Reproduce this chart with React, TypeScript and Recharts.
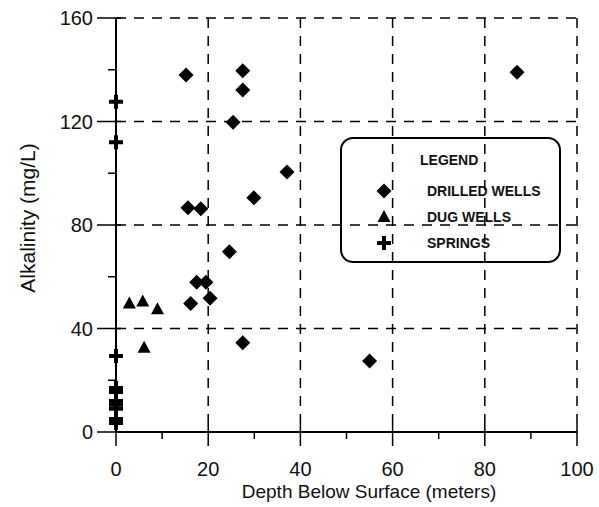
import React from 'react';
import { ScatterChart, Scatter, XAxis, YAxis, CartesianGrid } from 'recharts';

// depth below surface (m) and alkalinity (mg/L)
const drilledDepth = [15.2, 27.5, 27.5, 25.4, 37.1, 29.9, 15.6, 18.4, 24.6, 17.5, 19.5, 16.2, 20.4, 27.5, 55, 87];
const drilledAlk = [138, 139.6, 132.2, 119.7, 100.5, 90.5, 86.7, 86.3, 69.7, 57.9, 57.9, 49.7, 51.7, 34.5, 27.4, 139];

const dugDepth = [2.9, 5.8, 9, 6.1];
const dugAlk = [49.7, 50.4, 47.4, 32.6];

const springDepth = [0, 0, 0, 0, 0, 0, 0, 0, 0, 0];
const springAlk = [127.6, 112, 29.4, 17, 15.5, 12, 10.5, 9, 5, 3.5];

const xTicks = [0, 10, 20, 30, 40, 50, 60, 70, 80, 90, 100];
const yTicks = [0, 20, 40, 60, 80, 100, 120, 140, 160];
const xGrid = [20, 40, 60, 80, 100];
const yGrid = [40, 80, 120, 160];

const FONT = '"Liberation Sans", Arial, sans-serif';

const pairs = (xs: number[], ys: number[]) => xs.map((x, i) => ({ depth: x, alk: ys[i] }));
const drilled = pairs(drilledDepth, drilledAlk);
const dug = pairs(dugDepth, dugAlk);
const springs = pairs(springDepth, springAlk);

const Diamond = ({ cx, cy }: any) => (
  <path d={`M${cx},${cy - 7.5} L${cx + 7.5},${cy} L${cx},${cy + 7.5} L${cx - 7.5},${cy} Z`} fill="#000" />
);
const Triangle = ({ cx, cy }: any) => (
  <path d={`M${cx},${cy - 7} L${cx + 6.5},${cy + 5} L${cx - 6.5},${cy + 5} Z`} fill="#000" />
);
const Plus = ({ cx, cy }: any) => (
  <path
    d={`M${cx - 2},${cy - 7} h4 v5 h5 v4 h-5 v5 h-4 v-5 h-5 v-4 h5 Z`}
    fill="#000"
  />
);

const XTick = ({ x, y, payload }: any) => {
  const major = payload.value % 20 === 0;
  return (
    <g>
      <line x1={x} x2={x} y1={major ? y - 8 : y} y2={major ? y + 14 : y + 7} stroke="#000" strokeWidth={1.5} />
      {major && (
        <text x={x} y={y + 44} textAnchor="middle" fontSize={20} fontFamily={FONT} fill="#111">
          {payload.value}
        </text>
      )}
    </g>
  );
};

const YTick = ({ x, y, payload }: any) => {
  const major = payload.value % 40 === 0;
  return (
    <g>
      <line x1={major ? x - 19 : x - 8} x2={major ? x + 5 : x} y1={y} y2={y} stroke="#000" strokeWidth={1.5} />
      {major && (
        <text x={x - 23} y={y + 7} textAnchor="end" fontSize={20} fontFamily={FONT} fill="#111">
          {payload.value}
        </text>
      )}
    </g>
  );
};

const legendItems = [
  { label: 'DRILLED WELLS', Shape: Diamond },
  { label: 'DUG WELLS', Shape: Triangle },
  { label: 'SPRINGS', Shape: Plus },
];

const LegendBox = () => (
  <svg width={224} height={130} style={{ position: 'absolute', left: 339, top: 136 }}>
    <rect x={2} y={2} width={219} height={124} rx={12} fill="none" stroke="#000" strokeWidth={2} />
    <text x={81} y={29} fontSize={14} fontWeight="bold" fontFamily={FONT} fill="#111">LEGEND</text>
    {legendItems.map((it, i) => {
      const cy = 55 + i * 26;
      return (
        <g key={it.label}>
          <it.Shape cx={45} cy={cy} />
          <text x={88} y={cy + 5} fontSize={14} fontWeight="bold" fontFamily={FONT} fill="#111">
            {it.label}
          </text>
        </g>
      );
    })}
  </svg>
);

const App = () => (
  <div style={{ position: 'absolute', left: 0, top: 0, width: 599, height: 507, background: '#fff' }}>
    <ScatterChart width={599} height={507} margin={{ top: 18, right: 22, bottom: 15, left: 0 }}>
      <CartesianGrid
        horizontalValues={yGrid}
        verticalValues={xGrid}
        stroke="#000"
        strokeWidth={1.5}
        strokeDasharray="10 8"
      />
      <XAxis
        type="number"
        dataKey="depth"
        domain={[0, 100]}
        ticks={xTicks}
        interval={0}
        height={60}
        tickSize={0}
        tickMargin={0}
        tickLine={false}
        tick={<XTick />}
        axisLine={{ stroke: '#000', strokeWidth: 2 }}
        label={{
          content: () => (
            <text x={369} y={498} textAnchor="middle" fontSize={19} fontFamily={FONT} fill="#111">
              Depth Below Surface (meters)
            </text>
          ),
        }}
      />
      <YAxis
        type="number"
        dataKey="alk"
        domain={[0, 160]}
        ticks={yTicks}
        interval={0}
        width={116}
        tickSize={0}
        tickMargin={0}
        tickLine={false}
        tick={<YTick />}
        axisLine={{ stroke: '#000', strokeWidth: 2 }}
        label={{
          content: () => (
            <text
              x={27}
              y={218}
              transform="rotate(-90 27 218)"
              textAnchor="middle"
              dominantBaseline="central"
              fontSize={21}
              fontFamily={FONT}
              fill="#111"
            >
              Alkalinity (mg/L)
            </text>
          ),
        }}
      />
      <Scatter name="DUG WELLS" data={dug} shape={<Triangle />} isAnimationActive={false} />
      <Scatter name="SPRINGS" data={springs} shape={<Plus />} isAnimationActive={false} />
      <Scatter name="DRILLED WELLS" data={drilled} shape={<Diamond />} isAnimationActive={false} />
    </ScatterChart>
    <LegendBox />
  </div>
);

export default App;
